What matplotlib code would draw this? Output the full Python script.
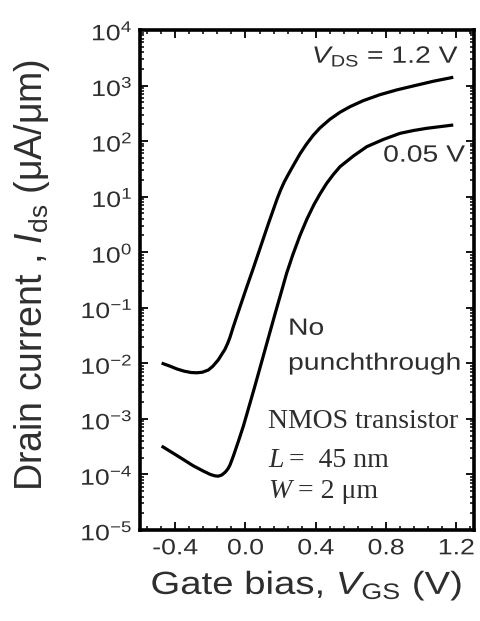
import matplotlib
matplotlib.use("Agg")
import matplotlib.pyplot as plt
from matplotlib.patheffects import AbstractPathEffect
from matplotlib.transforms import Affine2D
from matplotlib.ticker import LogLocator, NullFormatter, MultipleLocator

plt.rcParams['font.family'] = ['Liberation Sans', 'DejaVu Sans']
plt.rcParams['mathtext.fontset'] = 'custom'
plt.rcParams['mathtext.rm'] = 'Liberation Sans'
plt.rcParams['mathtext.it'] = 'Liberation Sans:italic'
plt.rcParams['mathtext.bf'] = 'Liberation Sans:bold'

# Transfer characteristics, V_DS = 1.2 V  (V_GS in V, I_ds in uA/um)
vgs_hi = [-0.477, -0.430, -0.391, -0.350, -0.310, -0.277, -0.245, -0.211, -0.185,
          -0.155, -0.135, -0.117, -0.100, -0.088, -0.070, -0.050, -0.020, 0.010,
          0.040, 0.070, 0.100, 0.130, 0.160, 0.180, 0.200, 0.220, 0.240, 0.272,
          0.310, 0.348, 0.386, 0.424, 0.481, 0.538, 0.595, 0.670, 0.765, 0.860,
          0.955, 1.068, 1.182]
ids_hi = [1.01e-2, 8.91e-3, 7.94e-3, 7.24e-3, 6.84e-3, 6.76e-3, 6.92e-3, 7.59e-3,
          8.91e-3, 1.15e-2, 1.45e-2, 1.78e-2, 2.34e-2, 2.95e-2, 4.47e-2, 6.92e-2,
          0.132, 0.251, 0.468, 0.891, 1.70, 3.24, 6.03, 9.12, 13.2, 18.2, 24.0,
          36.3, 58.9, 89.1, 128.0, 173.0, 248.0, 331.0, 417.0, 535.0, 685.0,
          834.0, 984.0, 1194.0, 1409.0]

# Transfer characteristics, V_DS = 0.05 V
vgs_lo = [-0.477, -0.420, -0.354, -0.300, -0.240, -0.200, -0.175, -0.155, -0.135,
          -0.115, -0.100, -0.088, -0.069, -0.040, -0.012, 0.020, 0.050, 0.080,
          0.110, 0.140, 0.170, 0.200, 0.234, 0.270, 0.310, 0.350, 0.390, 0.424,
          0.462, 0.500, 0.538, 0.613, 0.690, 0.784, 0.879, 0.955, 1.031, 1.106,
          1.182]
ids_lo = [3.24e-4, 2.51e-4, 1.86e-4, 1.45e-4, 1.15e-4, 1.00e-4, 9.46e-5, 9.30e-5,
          9.77e-5, 1.10e-4, 1.26e-4, 1.48e-4, 2.14e-4, 3.98e-4, 7.41e-4, 1.66e-3,
          3.55e-3, 7.76e-3, 1.70e-2, 3.72e-2, 8.13e-2, 0.174, 0.417, 0.912, 2.00,
          3.98, 7.24, 11.2, 17.4, 25.1, 34.7, 53.7, 79.4, 107.0, 138.0, 155.0,
          170.0, 182.0, 195.0]

x_ticks = [-0.4, 0.0, 0.4, 0.8, 1.2]
x_tick_labels = ['-0.4', '0.0', '0.4', '0.8', '1.2']
y_exponents = list(range(-5, 5))

TEXT = '#2e2e2e'


class WideText(AbstractPathEffect):
    """Widen glyphs horizontally about the text's anchor point."""

    def __init__(self, text, sx):
        super().__init__()
        self.text = text
        self.sx = sx

    def draw_path(self, renderer, gc, tpath, affine, rgbFace=None):
        ox, oy = self.text.get_transform().transform(self.text.get_position())
        widen = Affine2D().translate(-ox, -oy).scale(self.sx, 1.0).translate(ox, oy)
        renderer.draw_path(gc, tpath, affine + widen, rgbFace)


def widen(t, sx=1.2):
    t.set_path_effects([WideText(t, sx)])
    return t


fig = plt.figure(figsize=(4.8, 6.21), dpi=100)
ax = fig.add_axes([140 / 480, 1 - 530 / 621, 334 / 480, 500 / 621])

for vgs, ids in ((vgs_hi, ids_hi), (vgs_lo, ids_lo)):
    ax.semilogy(vgs, ids, color='black', lw=2.3, solid_capstyle='butt',
                solid_joinstyle='round')

ax.set_xlim(-0.6, 1.3)
ax.set_ylim(1e-5, 1e4)

ax.set_xticks(x_ticks, labels=x_tick_labels)
ax.xaxis.set_minor_locator(MultipleLocator(0.08))
ax.set_yticks([10.0 ** e for e in y_exponents],
              labels=[r'$\mathregular{10^{%d}}$' % e for e in y_exponents])
ax.yaxis.set_minor_locator(LogLocator(base=10, subs=range(2, 10), numticks=100))
ax.yaxis.set_minor_formatter(NullFormatter())

ax.tick_params(which='both', direction='in', top=True, right=True,
               color='black', labelcolor=TEXT)
ax.tick_params(which='major', length=6, width=1.3)
ax.tick_params(which='minor', length=3, width=1.1)
ax.tick_params(axis='x', which='major', labelsize=16, pad=6)
ax.tick_params(axis='y', which='major', labelsize=16, pad=5)
for sp in ax.spines.values():
    sp.set_linewidth(2.6)

for t in ax.get_xticklabels() + ax.get_yticklabels():
    widen(t, 1.2)

xl = ax.set_xlabel(r'Gate bias, $V_{\rm GS}$ (V)', fontsize=23, color=TEXT, labelpad=7)
widen(xl, 1.2)
ax.set_ylabel(r'Drain current , $I_{\rm ds}$ ($\mathregular{\mu}$A/$\mathregular{\mu}$m)',
              fontsize=27, color=TEXT)
ax.yaxis.set_label_coords(-0.263, 0.51)

# curve labels
widen(ax.text(1.220, 2570, r'$V_{\rm DS}$ = 1.2 V', fontsize=17, color=TEXT,
              ha='right', va='baseline'))
widen(ax.text(1.249, 42.7, '0.05 V', fontsize=17, color=TEXT,
              ha='right', va='baseline'))
widen(ax.text(0.242, 10 ** -1.486, 'No', fontsize=17, color=TEXT,
              ha='left', va='baseline'))
widen(ax.text(0.242, 10 ** -2.115, 'punchthrough', fontsize=17, color=TEXT,
              ha='left', va='baseline'))

# device description
serif = dict(family='Liberation Serif', fontsize=20, color=TEXT, va='baseline')
ax.text(0.128, 10 ** -3.158, 'NMOS transistor', ha='left', **serif)
ax.text(0.128, 10 ** -3.86, 'L', style='italic', ha='left', **serif)
ax.text(0.250, 10 ** -3.86, '=  45 nm', ha='left', **serif)
ax.text(0.128, 10 ** -4.42, 'W', style='italic', ha='left', **serif)
ax.text(0.300, 10 ** -4.42, '= 2 \u03bcm', ha='left', **serif)

fig.savefig('out.png', dpi=100, facecolor='white')
